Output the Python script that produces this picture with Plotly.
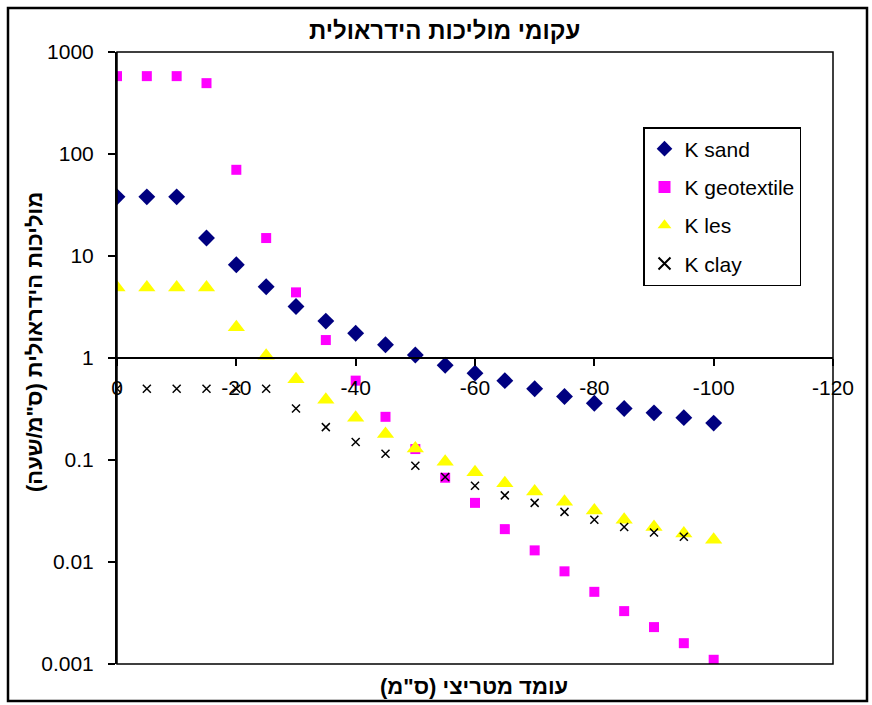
import plotly.graph_objects as go

# ---- data ----
x_vals = [0, -5, -10, -15, -20, -25, -30, -35, -40, -45, -50, -55, -60, -65, -70, -75, -80, -85, -90, -95, -100]
k_sand = [38, 38, 38, 15, 8.2, 5.0, 3.2, 2.3, 1.75, 1.35, 1.07, 0.85, 0.71, 0.6, 0.5, 0.42, 0.36, 0.32, 0.29, 0.26, 0.23]
k_geotextile = [580, 580, 580, 495, 70, 15, 4.4, 1.5, 0.6, 0.265, 0.128, 0.067, 0.038, 0.021, 0.013, 0.0081, 0.0051, 0.0033, 0.0023, 0.0016, 0.0011]
k_les = [4.9, 4.9, 4.9, 4.9, 2.0, 1.05, 0.62, 0.39, 0.26, 0.18, 0.13, 0.096, 0.076, 0.059, 0.049, 0.039, 0.032, 0.026, 0.022, 0.019, 0.0165]
x_clay = [0, -5, -10, -15, -20, -25, -30, -35, -40, -45, -50, -55, -60, -65, -70, -75, -80, -85, -90, -95]
k_clay = [0.5, 0.5, 0.5, 0.5, 0.5, 0.5, 0.32, 0.21, 0.15, 0.115, 0.088, 0.068, 0.056, 0.045, 0.038, 0.031, 0.026, 0.022, 0.0195, 0.0177]

x_ticks = [0, -20, -40, -60, -80, -100, -120]
x_ticktext = ["0", "-20", "-40", "-60", "-80", "-100", "-120"]
y_ticks = [0.001, 0.01, 0.1, 1, 10, 100, 1000]
y_ticktext = ["0.001", "0.01", "0.1", "1", "10", "100", "1000"]

title_text = "עקומי מוליכות הידראולית"
x_title = "עומד מטריצי (ס\"מ)\u200F"
y_title = "מוליכות הידראולית (ס\"מ/שעה)\u200F"

FONT = "Arial, 'Liberation Sans', sans-serif"
W, H = 872, 705
L, R, T, B = 117, 833, 52, 664


def px_x(p):
    return (p - L) / (R - L)


def px_y(p):
    return (B - p) / (B - T)


fig = go.Figure()
fig.add_trace(go.Scatter(x=x_vals, y=k_sand, mode="markers", name="K sand", legendgroup="a",
                         marker=dict(symbol="diamond", size=13, color="#000080")))
fig.add_trace(go.Scatter(x=x_vals, y=k_geotextile, mode="markers", name="K geotextile", legendgroup="b",
                         marker=dict(symbol="square", size=10, color="#FF00FF")))
fig.add_trace(go.Scatter(x=x_vals, y=k_les, mode="markers", name="K les", legendgroup="c",
                         marker=dict(symbol="triangle-up", size=15, color="#FFFF00")))
fig.add_trace(go.Scatter(x=x_clay, y=k_clay, mode="markers", name="K clay", legendgroup="d",
                         marker=dict(symbol="x-thin", size=8, color="black",
                                     line=dict(width=1.5, color="black"))))

fig.update_layout(
    width=W, height=H,
    margin=dict(l=L, r=W - R, t=T, b=H - B, pad=0),
    paper_bgcolor="white", plot_bgcolor="white",
    font=dict(family=FONT, size=21, color="black"),
    showlegend=True,
    legend=dict(x=px_x(643), y=px_y(127), xanchor="left", yanchor="top",
                bordercolor="black", borderwidth=1.5, bgcolor="white",
                font=dict(family=FONT, size=21, color="black"),
                tracegroupgap=8, itemsizing="constant"),
    xaxis=dict(range=[0, -120], tickvals=x_ticks, ticktext=x_ticktext,
               anchor="free", position=0.5, showline=True, linecolor="black", linewidth=2,
               ticks="outside", ticklen=7, tickwidth=2, tickcolor="black",
               ticklabelstandoff=4,
               showgrid=False, zeroline=False,
               tickfont=dict(family=FONT, size=21, color="black")),
    yaxis=dict(type="log", range=[-3, 3], tickvals=y_ticks, ticktext=y_ticktext,
               showline=True, linecolor="black", linewidth=2,
               ticks="outside", ticklen=7, tickwidth=2, tickcolor="black",
               ticklabelstandoff=10,
               showgrid=False, zeroline=False,
               tickfont=dict(family=FONT, size=21, color="black")),
)

# plot-area box
fig.add_shape(type="rect", xref="paper", yref="paper", x0=0, x1=1, y0=0, y1=1,
              line=dict(color="black", width=1.5), layer="above")
# outer chart border
fig.add_shape(type="rect", xref="paper", yref="paper",
              x0=px_x(8), x1=px_x(867), y0=px_y(701), y1=px_y(8),
              line=dict(color="black", width=2.5))

fig.add_annotation(text="<b>" + title_text + "</b>", xref="paper", yref="paper",
                   x=px_x(444), y=px_y(31), xanchor="center", yanchor="middle", showarrow=False,
                   font=dict(family=FONT, size=24, color="black"))
fig.add_annotation(text="<b>" + x_title + "</b>", xref="paper", yref="paper",
                   x=px_x(474), y=px_y(686), xanchor="center", yanchor="middle", showarrow=False,
                   font=dict(family=FONT, size=22, color="black"))
fig.add_annotation(text="<b>" + y_title + "</b>", xref="paper", yref="paper",
                   x=px_x(34), y=px_y(342), xanchor="center", yanchor="middle", showarrow=False,
                   textangle=-90,
                   font=dict(family=FONT, size=22, color="black"))

fig.write_html("out.html")
